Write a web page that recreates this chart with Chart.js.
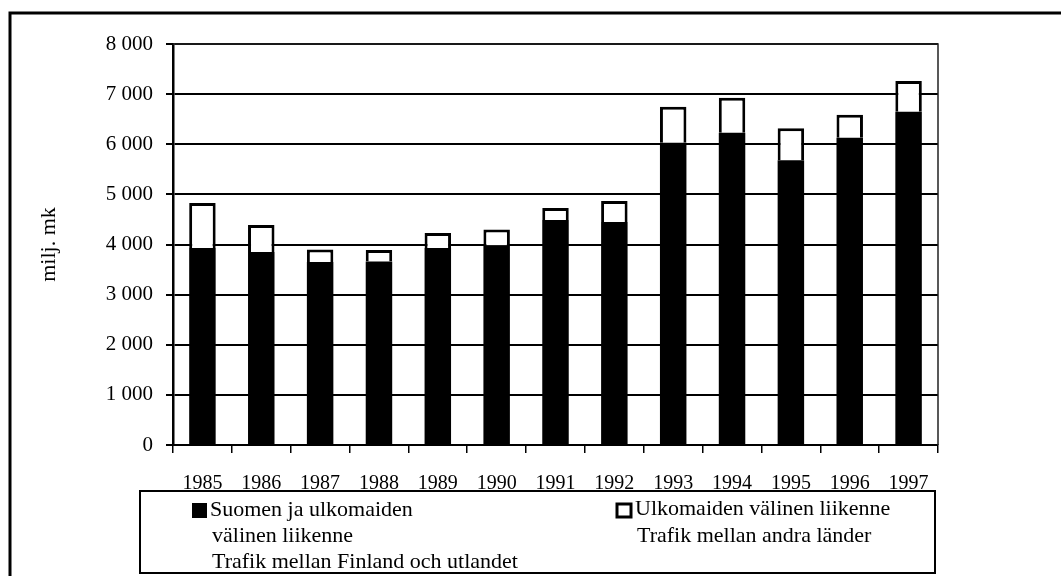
<!DOCTYPE html>
<html>
<head>
<meta charset="utf-8">
<script src="https://cdn.jsdelivr.net/npm/chart.js@4/dist/chart.umd.min.js"></script>
<style>
  html, body { margin: 0; padding: 0; background: #fff; }
  #wrap { width: 1061px; height: 576px; position: relative; }
</style>
</head>
<body>
<div id="wrap"><canvas id="chart"></canvas></div>
<script>
// Data (milj. mk)
const years = ['1985', '1986', '1987', '1988', '1989', '1990', '1991', '1992', '1993', '1994', '1995', '1996', '1997'];
const finlandAbroad = [3930, 3850, 3650, 3660, 3930, 3980, 4490, 4450, 6030, 6230, 5680, 6130, 6650];
const betweenOthers = [900, 540, 250, 230, 300, 320, 240, 420, 720, 700, 640, 460, 610];
const yMin = 0;
const yMax = 8000;
const yStep = 1000;

const legendFinland = ['Suomen ja ulkomaiden', 'välinen liikenne', 'Trafik mellan Finland och utlandet'];
const legendOthers = ['Ulkomaiden välinen liikenne', 'Trafik mellan andra länder'];

const serif = '"Liberation Serif", "Times New Roman", serif';

// thousands with a space: 8 000
const fmt = v => String(v).replace(/\B(?=(\d{3})+(?!\d))/g, ' ');

// Frame, plot border and the boxed legend below the axis
const decorations = {
  id: 'decorations',
  afterDraw(chart) {
    const ctx = chart.ctx;
    const area = chart.chartArea;
    ctx.save();

    // thin top / right edge of plot area
    ctx.strokeStyle = '#222';
    ctx.lineWidth = 1.5;
    ctx.beginPath();
    ctx.moveTo(area.left, area.top);
    ctx.lineTo(area.right, area.top);
    ctx.lineTo(area.right, area.bottom);
    ctx.stroke();

    // outer frame (only top and left visible)
    ctx.strokeStyle = '#000';
    ctx.lineWidth = 3;
    ctx.beginPath();
    ctx.moveTo(10, 580);
    ctx.lineTo(10, 13);
    ctx.lineTo(1065, 13);
    ctx.stroke();

    // legend box
    ctx.lineWidth = 2;
    ctx.strokeRect(140, 491, 795, 82);

    ctx.font = '22px ' + serif;
    ctx.fillStyle = '#000';
    ctx.textBaseline = 'middle';
    ctx.textAlign = 'left';

    const ds = chart.data.datasets;
    // first entry: black square
    ctx.fillStyle = ds[0].backgroundColor;
    ctx.fillRect(192, 503, 15, 15);
    ctx.fillStyle = '#000';
    legendFinland.forEach((t, i) => ctx.fillText(t, i === 0 ? 210 : 212, 510 + i * 26));

    // second entry: white square with black border
    ctx.fillStyle = ds[1].backgroundColor;
    ctx.fillRect(617, 504, 14, 13);
    ctx.strokeStyle = ds[1].borderColor;
    ctx.lineWidth = 3;
    ctx.strokeRect(617, 504, 14, 13);
    ctx.fillStyle = '#000';
    legendOthers.forEach((t, i) => ctx.fillText(t, i === 0 ? 635 : 637, 509 + i * 27));

    ctx.restore();
  }
};

const ctx = document.getElementById('chart').getContext('2d');

new Chart(ctx, {
  type: 'bar',
  data: {
    labels: years,
    datasets: [
      {
        label: legendFinland.join(' '),
        data: finlandAbroad,
        backgroundColor: '#000',
        borderWidth: 0
      },
      {
        label: legendOthers.join(' '),
        data: betweenOthers,
        backgroundColor: '#fff',
        borderColor: '#000',
        borderWidth: 3
      }
    ]
  },
  options: {
    responsive: true,
    maintainAspectRatio: false,
    animation: false,
    layout: {
      padding: { left: 10, right: 123, top: 44, bottom: 85 }
    },
    datasets: {
      bar: {
        categoryPercentage: 1,
        barPercentage: 0.45
      }
    },
    plugins: {
      legend: { display: false },
      tooltip: { enabled: false }
    },
    scales: {
      x: {
        stacked: true,
        grid: {
          offset: true,
          drawOnChartArea: false,
          drawTicks: true,
          tickLength: 8,
          color: '#000',
          lineWidth: 1.5
        },
        border: { display: true, color: '#000', width: 2 },
        ticks: {
          color: '#000',
          padding: 19,
          maxRotation: 0,
          autoSkip: false,
          font: { family: serif, size: 20 }
        },
        afterFit: scale => { scale.height = 46; }
      },
      y: {
        stacked: true,
        min: yMin,
        max: yMax,
        grid: {
          color: '#000',
          lineWidth: 2,
          tickLength: 7,
          tickColor: '#000'
        },
        border: { display: true, color: '#000', width: 2.5 },
        ticks: {
          stepSize: yStep,
          color: '#000',
          padding: 13,
          font: { family: serif, size: 21 },
          callback: v => fmt(v)
        },
        title: {
          display: true,
          text: 'milj. mk',
          color: '#000',
          font: { family: serif, size: 22 },
          padding: { top: 26, bottom: 0 }
        },
        afterFit: scale => { scale.width = 163; }
      }
    }
  },
  plugins: [decorations]
});
</script>
</body>
</html>
